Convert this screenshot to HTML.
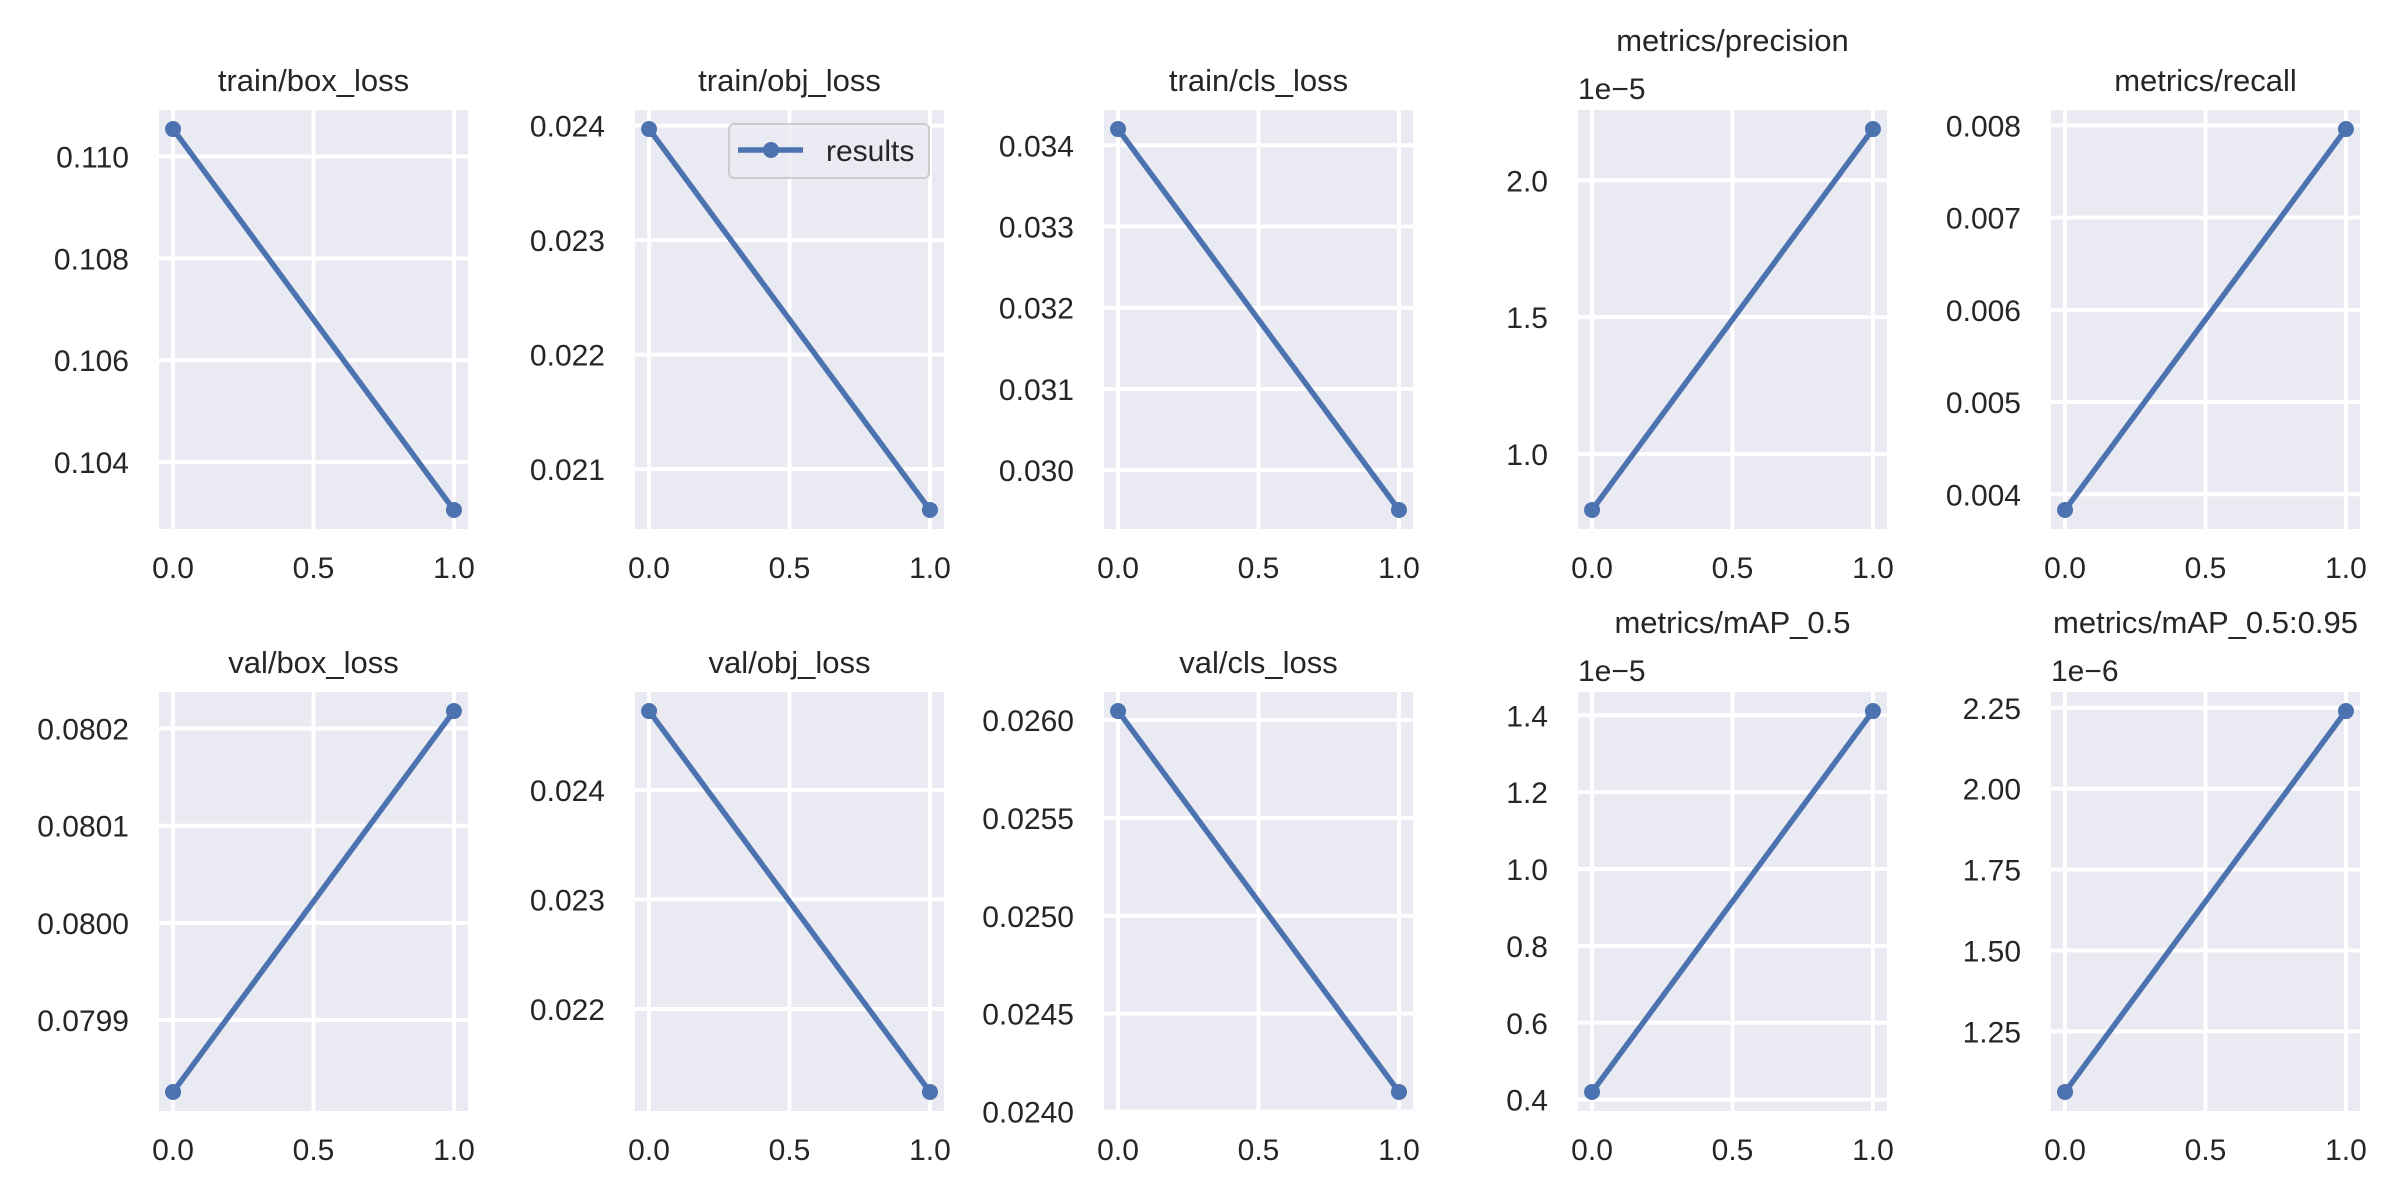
<!DOCTYPE html>
<html><head><meta charset="utf-8"><style>
html,body{margin:0;padding:0;background:#fff;}
svg{display:block;font-family:"Liberation Sans",Arial,sans-serif;}
</style></head><body>
<svg id="fig" width="2400" height="1200" viewBox="0 0 2400 1200" xmlns="http://www.w3.org/2000/svg"></svg>
<script>
const titles = ["train/box_loss","train/obj_loss","train/cls_loss","metrics/precision","metrics/recall","val/box_loss","val/obj_loss","val/cls_loss","metrics/mAP_0.5","metrics/mAP_0.5:0.95"];
const epochs = [0, 1];
const seriesBox = [0.11054, 0.10306];
const seriesObj = [0.02397, 0.020644];
const seriesCls = [0.0342, 0.02951];
const seriesPrecision = [0.796, 2.187];
const seriesRecall = [0.00383, 0.00796];
const seriesValBox = [0.079826, 0.080218];
const seriesValObj = [0.02472, 0.021242];
const seriesValCls = [0.026046, 0.02410];
const seriesMap50 = [0.420, 1.411];
const seriesMap5095 = [1.063, 2.240];
const yTicks = [
 [0.104,0.106,0.108,0.110],
 [0.021,0.022,0.023,0.024],
 [0.030,0.031,0.032,0.033,0.034],
 [1.0,1.5,2.0],
 [0.004,0.005,0.006,0.007,0.008],
 [0.0799,0.0800,0.0801,0.0802],
 [0.022,0.023,0.024],
 [0.0240,0.0245,0.0250,0.0255,0.0260],
 [0.4,0.6,0.8,1.0,1.2,1.4],
 [1.25,1.50,1.75,2.00,2.25]
];
const yDecimals = [3,3,3,1,3,4,3,4,1,2];
const offsets = ["","","","1e\u22125","","","","","1e\u22125","1e\u22126"];
const xTicks = [0.0, 0.5, 1.0];
const xTickLabels = ["0.0","0.5","1.0"];
const series = [seriesBox,seriesObj,seriesCls,seriesPrecision,seriesRecall,seriesValBox,seriesValObj,seriesValCls,seriesMap50,seriesMap5095];

const NS="http://www.w3.org/2000/svg";
const svg=document.getElementById('fig');
function mk(tag, attrs, parent){const e=document.createElementNS(NS,tag);for(const k in attrs)e.setAttribute(k,attrs[k]);(parent||svg).appendChild(e);return e;}
const colX=[159,635,1104,1578,2051], W=309;
const rowY=[110,692], H=419;
const TXT="#262626", BLUE="#4c72b0";
const FS=30, TFS=31;
for(let i=0;i<10;i++){
  const L=colX[i%5], T=rowY[Math.floor(i/5)];
  const g=mk('g',{});
  
  
  const d=series[i];
  const mn=Math.min(...d), mx=Math.max(...d), pad=(mx-mn)*0.05;
  const y0=mn-pad, y1=mx+pad;
  const sx=v=>L+(v-(-0.05))/1.1*W;
  const sy=v=>T+H-(v-y0)/(y1-y0)*H;
  const bg=mk('rect',{x:L,y:T,width:W,height:H,fill:'#eaeaf2'},g);
  
  
  xTicks.forEach((t,k)=>{
    const x=sx(t);
    const gl=mk('line',{x1:x,x2:x,y1:T,y2:T+H,stroke:'#fff','stroke-width':4},g);
    
    
    const tl=mk('text',{x:x,y:T+H+49,'text-anchor':'middle','font-size':FS,fill:TXT},g);
    tl.textContent=xTickLabels[k];
    
    
  });
  yTicks[i].forEach(t=>{
    const y=sy(t);
    if(y<T-1||y>T+H+1)return;
    const gl=mk('line',{x1:L,x2:L+W,y1:y,y2:y,stroke:'#fff','stroke-width':4},g);
    
    
    const tl=mk('text',{x:L-30,y:y+11,'text-anchor':'end','font-size':FS,fill:TXT},g);
    tl.textContent=t.toFixed(yDecimals[i]);
    
    
  });
  const pts=epochs.map((e,k)=>sx(e)+','+sy(d[k])).join(' ');
  const pl=mk('polyline',{points:pts,fill:'none',stroke:BLUE,'stroke-width':5.5},g);
  
  
  epochs.forEach((e,k)=>{
    const c=mk('circle',{cx:sx(e),cy:sy(d[k]),r:8,fill:BLUE},g);
    
    
  });
  const hasOff=offsets[i]!=="";
  const tt=mk('text',{x:L+W/2,y:hasOff?T-59:T-19,'text-anchor':'middle','font-size':TFS,fill:TXT},g);
  tt.textContent=titles[i];
  
  
  if(hasOff){
    const ot=mk('text',{x:L,y:T-11,'text-anchor':'start','font-size':FS,fill:TXT},g);
    ot.textContent=offsets[i];
    
    
  }
}
const lg=mk('g',{});


const lb=mk('rect',{x:729,y:124,width:200,height:54,rx:5,fill:'#eaeaf2',stroke:'#cccccc','stroke-width':2,'fill-opacity':0.8},lg);


const ll=mk('line',{x1:738,x2:803,y1:150,y2:150,stroke:BLUE,'stroke-width':5.5},lg);


const lc=mk('circle',{cx:771,cy:150,r:8,fill:BLUE},lg);


const lt=mk('text',{x:826,y:161,'font-size':FS,fill:TXT},lg);
lt.textContent='results';


</script>
</body></html>
